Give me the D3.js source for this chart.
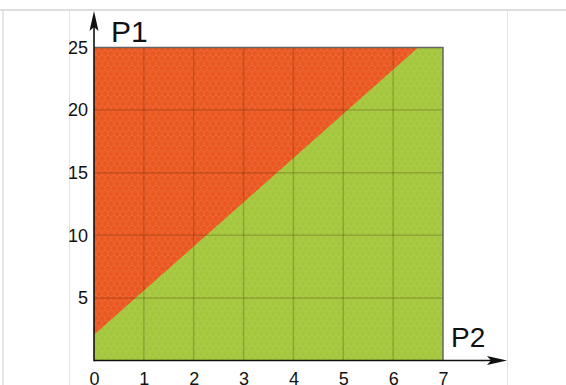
<!DOCTYPE html>
<html>
<head>
<meta charset="utf-8">
<script src="https://cdn.jsdelivr.net/npm/d3@7"></script>
<style>
  body { margin: 0; background: #fff; }
  svg { display: block; }
  .tick text { font-family: 'Liberation Sans', Arial, sans-serif; font-size: 18px; fill: #111; }
</style>
</head>
<body>
<div id="chart"></div>
<script>
// values
const xTicks = [0, 1, 2, 3, 4, 5, 6, 7]
const yTicks = [5, 10, 15, 20, 25]
// the straight border between the two regions (ends)
const boundaryP2 = [0, 6.5]
const boundaryP1 = [2.05, 25]
const axisNames = ['P1', 'P2']

const W = 566
const H = 385

const svg = d3
  .select('#chart')
  .append('svg')
  .attr('width', W)
  .attr('height', H)

const x = d3.scaleLinear().domain([0, 7]).range([94, 443])
const y = d3.scaleLinear().domain([0, 25]).range([360.5, 47.5])

// frame of the page
svg.append('line').attr('x1', 0).attr('x2', W).attr('y1', 10).attr('y2', 10)
  .attr('stroke', '#dedede').attr('stroke-width', 2)
svg.append('line').attr('x1', 3).attr('x2', 3).attr('y1', 10).attr('y2', H)
  .attr('stroke', '#dedede').attr('stroke-width', 1.5)
svg.append('line').attr('x1', 69.5).attr('x2', 69.5).attr('y1', 11).attr('y2', H)
  .attr('stroke', '#e4e4e4')
svg.append('line').attr('x1', 507.5).attr('x2', 507.5).attr('y1', 11).attr('y2', H)
  .attr('stroke', '#e4e4e4')

// small hex texture
const defs = svg.append('defs')
const pat = defs.append('pattern')
  .attr('id', 'hex')
  .attr('width', 6)
  .attr('height', 10)
  .attr('patternUnits', 'userSpaceOnUse')
pat.append('path')
  .attr('d', 'M3,0 L6,2 L6,5 L3,7 L0,5 L0,2 Z M3,7 L3,10')
  .attr('fill', 'none')
  .attr('stroke', '#fff')
  .attr('stroke-opacity', 0.13)
  .attr('stroke-width', 0.8)

const data = boundaryP2.map((d, i) => [d, boundaryP1[i]])

// green = whole box, red = above boundary
svg.append('rect')
  .attr('x', x(0))
  .attr('y', y(25))
  .attr('width', x(7) - x(0))
  .attr('height', y(0) - y(25))
  .attr('fill', '#a4c63b')

const area = d3.area()
  .x(d => x(d[0]))
  .y0(y(25))
  .y1(d => y(d[1]))

svg.append('path')
  .datum(data)
  .attr('d', area)
  .attr('fill', '#ea5720')

svg.append('rect')
  .attr('x', x(0))
  .attr('y', y(25))
  .attr('width', x(7) - x(0))
  .attr('height', y(0) - y(25))
  .attr('fill', 'url(#hex)')

// grid
svg.append('g')
  .selectAll('line')
  .data(xTicks.slice(1, -1))
  .enter()
  .append('line')
  .attr('x1', d => x(d))
  .attr('x2', d => x(d))
  .attr('y1', y(25))
  .attr('y2', y(0))
  .attr('stroke', '#3a2a00')
  .attr('stroke-opacity', 0.22)
  .attr('stroke-width', 1.5)

svg.append('g')
  .selectAll('line')
  .data(yTicks.slice(0, -1))
  .enter()
  .append('line')
  .attr('x1', x(0))
  .attr('x2', x(7))
  .attr('y1', d => y(d))
  .attr('y2', d => y(d))
  .attr('stroke', '#3a2a00')
  .attr('stroke-opacity', 0.22)
  .attr('stroke-width', 1.5)

// top and right edges of the box
svg.append('path')
  .attr('d', 'M' + x(0) + ',' + y(25) + 'H' + x(7) + 'V' + y(0))
  .attr('fill', 'none')
  .attr('stroke', '#666')
  .attr('stroke-width', 1.5)

// axes
const yAxis = d3.axisLeft(y).tickValues(yTicks).tickSize(0).tickPadding(6)
  .tickFormat(d3.format('d'))
svg.append('g')
  .attr('class', 'axis y-axis')
  .attr('transform', 'translate(' + x(0) + ',0)')
  .call(yAxis)
  .call(g => g.select('.domain').remove())

// the reference crops these labels at the bottom edge
const xAxis = d3.axisBottom(x).tickValues(xTicks).tickSize(0).tickPadding(12)
  .tickFormat(d3.format('d'))
svg.append('g')
  .attr('class', 'axis x-axis')
  .attr('transform', 'translate(0,' + y(0) + ')')
  .call(xAxis)
  .call(g => g.select('.domain').remove())

// arrows
const x0 = x(0)
const yb = y(0)
svg.append('line').attr('x1', x0).attr('x2', x0).attr('y1', yb + 0.8).attr('y2', 22)
  .attr('stroke', '#111').attr('stroke-width', 1.6)
svg.append('path')
  .attr('d', `M${x0},11 L${x0 + 4.5},31 L${x0},27 L${x0 - 4.5},31 Z`)
  .attr('fill', '#111')

svg.append('line').attr('x1', x0).attr('x2', 497).attr('y1', yb).attr('y2', yb)
  .attr('stroke', '#111').attr('stroke-width', 1.6)
svg.append('path')
  .attr('d', `M507,${yb} L487,${yb - 4.5} L491,${yb} L487,${yb + 4.5} Z`)
  .attr('fill', '#111')

svg.append('text')
  .attr('x', 111)
  .attr('y', 42)
  .attr('font-family', "'Liberation Sans', Arial, sans-serif")
  .attr('font-size', 30)
  .attr('fill', '#111')
  .text(axisNames[0])

svg.append('text')
  .attr('x', 451)
  .attr('y', 347)
  .attr('font-family', "'Liberation Sans', Arial, sans-serif")
  .attr('font-size', 28)
  .attr('fill', '#111')
  .text(axisNames[1])
</script>
</body>
</html>
